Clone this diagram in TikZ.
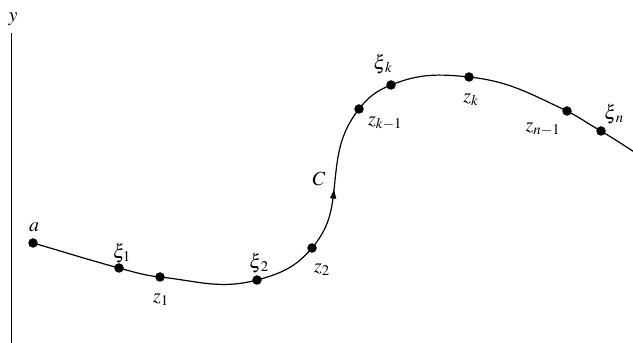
\documentclass[tikz,border=0pt]{standalone}
\usepackage{mathptmx}
\usetikzlibrary{arrows.meta,decorations.markings}
\begin{document}
\begin{tikzpicture}[x=1pt,y=1pt,
  pt/.style={circle,fill=black,inner sep=0pt,minimum size=9.5pt},
  lbl/.style={inner sep=0pt,font=\fontsize{20}{23}\selectfont},
  curve/.style={line width=1.2pt},
  axis/.style={line width=0.9pt}]
\useasboundingbox (0,0) rectangle (633,343);
\clip (0,0) rectangle (633,343);
% axis
\coordinate (ytop) at (11,310);
\coordinate (ybot) at (11,-2);
\draw[axis] (ytop) -- (ybot);
\node[lbl] (ylab) at (13,324) {$y$};
% points on the curve
\coordinate (a) at (33,100);
\coordinate (xi1) at (119,75);
\coordinate (z1) at (160,66);
\coordinate (xi2) at (257,63);
\coordinate (z2) at (312,95);
\coordinate (carrow) at (334,153);
\coordinate (zk1) at (359,234);
\coordinate (xik) at (391,258);
\coordinate (zk) at (469,266);
\coordinate (zn1) at (567,232);
\coordinate (xin) at (601,212);
\coordinate (cend) at (648,182);
\draw[curve,postaction={decorate},decoration={markings,
  mark=at position 358pt with {\arrow{Triangle[length=9pt,width=6pt]}}}]
  (a) to[out=-16,in=165] (xi1) to[out=-15,in=174] (z1)
  to[out=-6,in=195] (xi2) to[out=15,in=230] (z2)
  to[out=50,in=264] (carrow) to[out=84,in=232] (zk1)
  to[out=52,in=202] (xik) to[out=22,in=174] (zk)
  to[out=-6,in=155] (zn1) to[out=-27,in=151] (xin)
  to[out=-31,in=147] (cend);
\foreach \p in {a,xi1,z1,xi2,z2,zk1,xik,zk,zn1,xin}
  \node[pt] at (\p) {};
% labels
\node[lbl] (la) at (34,116) {$a$};
\node[lbl] (lxi1) at (122,90) {$\xi_1$};
\node[lbl] (lz1) at (161,43) {$z_1$};
\node[lbl] (lxi2) at (259,80) {$\xi_{\mkern2mu 2}$};
\node[lbl] (lz2) at (322,73) {$z_2$};
\node[lbl] (lC) at (319,164) {$C$};
\node[lbl] (lzk1) at (385,220) {$z_{k-1}$};
\node[lbl] (lxik) at (383,279) {$\xi_{\mkern2mu k}$};
\node[lbl] (lzk) at (471,243) {$z_k$};
\node[lbl] (lzn1) at (543,214) {$z_{n-1}$};
\node[lbl] (lxin) at (614,229) {$\xi_{\mkern2mu n}$};
\end{tikzpicture}
\end{document}
